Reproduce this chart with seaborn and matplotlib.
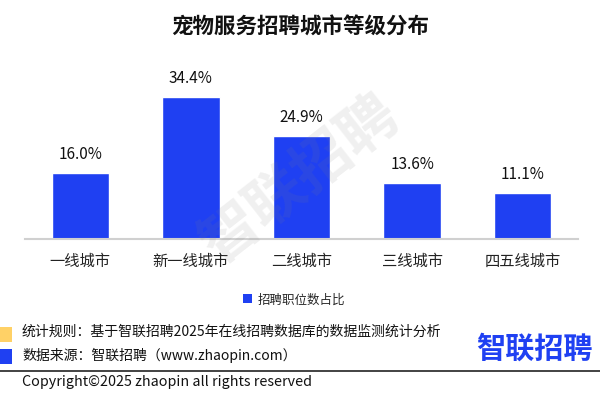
import matplotlib
matplotlib.use("Agg")
import matplotlib.pyplot as plt
import seaborn as sns
import pandas as pd
from matplotlib.patches import Rectangle, Patch
from matplotlib.lines import Line2D

categories = ["一线城市", "新一线城市", "二线城市", "三线城市", "四五线城市"]
values = [16.0, 34.4, 24.9, 13.6, 11.1]
series_name = "招聘职位数占比"
title = "宠物服务招聘城市等级分布"
rule_text = "统计规则：基于智联招聘2025年在线招聘数据库的数据监测统计分析"
source_text = "数据来源：智联招聘（www.zhaopin.com）"
copyright_text = "Copyright©2025 zhaopin all rights reserved"
logo_text = "智联招聘"

sns.set_theme(style="white")
plt.rcParams["font.family"] = ["Noto Sans CJK SC", "DejaVu Sans"]

BLUE = "#1f40f2"
YELLOW = "#ffd166"

df = pd.DataFrame({"city": categories, "share": values})

fig = plt.figure(figsize=(6, 4.02), dpi=100)
ax = fig.add_axes([25/600, 1 - 240/402, 553/600, 165.5/402])

sns.barplot(data=df, x="city", y="share", color=BLUE, width=0.52,
            saturation=1, ax=ax)
if ax.get_legend() is not None:
    ax.get_legend().remove()
ax.set_ylim(0, 40)
ax.set_xlim(-0.5, len(categories) - 0.5)
ax.set_xlabel("")
ax.set_ylabel("")
ax.set_yticks([])
for s in ["top", "right", "left"]:
    ax.spines[s].set_visible(False)
ax.spines["bottom"].set_color("#d0d0d0")
ax.spines["bottom"].set_linewidth(1.5)
ax.tick_params(axis="x", length=0, pad=9, labelsize=11, labelcolor="#222222")

ax.bar_label(ax.containers[0], fmt="%.1f%%", padding=8, fontsize=11, color="#111111")

fig.text(0.5, 1 - 27/402, title, ha="center", va="center",
         fontsize=15.5, fontweight="bold", color="#111111")

# watermark
fig.text(0.5, 1 - 180/402, logo_text, ha="center", va="center", rotation=38,
         fontsize=42, fontweight="bold", color="gray", alpha=0.12, zorder=10)

handle = Patch(facecolor=BLUE, edgecolor="none", label=series_name)
fig.legend(handles=[handle], loc="center", bbox_to_anchor=(0.49, 1 - 300/402),
           frameon=False, fontsize=9, handlelength=0.7, handleheight=0.7,
           handletextpad=0.5)

# footer
fig.patches.append(Rectangle((0, 1 - 343/402), 12/600, 15/402,
                             transform=fig.transFigure, facecolor=YELLOW,
                             edgecolor="none"))
fig.patches.append(Rectangle((0, 1 - 365/402), 12/600, 15/402,
                             transform=fig.transFigure, facecolor=BLUE,
                             edgecolor="none"))
fig.text(22/600, 1 - 332/402, rule_text, ha="left", va="center",
         fontsize=10, color="#111111")
fig.text(22/600, 1 - 355/402, source_text, ha="left", va="center",
         fontsize=10, color="#111111")
fig.lines.append(Line2D([0, 1], [1 - 372/402, 1 - 372/402],
                        transform=fig.transFigure, color="#222222", linewidth=1.2))
fig.text(22/600, 1 - 382/402, copyright_text, ha="left", va="center",
         fontsize=10.3, color="#111111")
fig.text(534/600, 1 - 349/402, logo_text, ha="center", va="center",
         fontsize=21, fontweight="bold", color=BLUE)

fig.savefig("out.png", dpi=100)
